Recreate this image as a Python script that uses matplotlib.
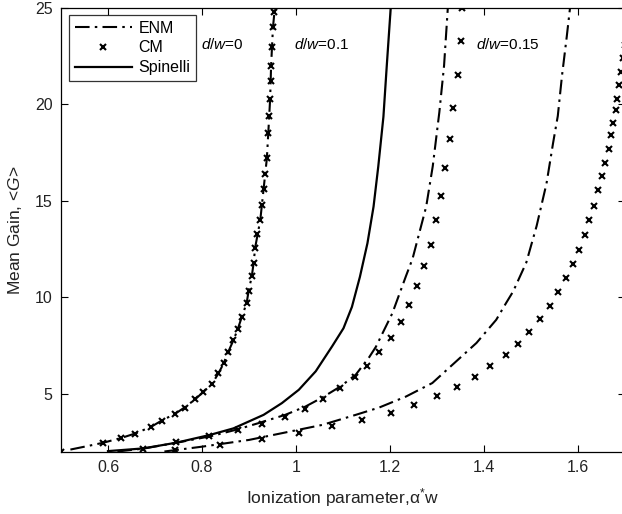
import matplotlib
matplotlib.use("Agg")
import matplotlib.pyplot as plt

plt.rcParams['font.family'] = ['Liberation Sans', 'DejaVu Sans']
plt.rcParams['mathtext.fontset'] = 'custom'
plt.rcParams['mathtext.rm'] = 'Liberation Sans'
plt.rcParams['mathtext.it'] = 'Liberation Sans:italic'

# d/w = 0 (ENM and CM coincide)
enm0_x = [0.52, 0.56, 0.589, 0.628, 0.66, 0.693, 0.714, 0.743, 0.764, 0.785, 0.803, 0.821,
          0.835, 0.846, 0.856, 0.867, 0.876, 0.885, 0.895, 0.899, 0.906, 0.910, 0.913,
          0.924, 0.931, 0.938, 0.941, 0.945, 0.947, 0.951, 0.955]
enm0_g = [2.1, 2.3, 2.45, 2.7, 2.95, 3.3, 3.6, 3.96, 4.3, 4.7, 5.09, 5.5,
          6.05, 6.57, 7.17, 7.78, 8.34, 9.0, 9.7, 10.3, 11.1, 11.8, 12.56,
          14.0, 15.6, 17.2, 18.5, 20.3, 22.0, 24.0, 25.0]
cm0_x = [0.5, 0.589, 0.628, 0.658, 0.692, 0.714, 0.742, 0.764, 0.785, 0.803, 0.821, 0.835,
         0.846, 0.856, 0.867, 0.876, 0.885, 0.895, 0.899, 0.906, 0.910, 0.913, 0.918,
         0.924, 0.928, 0.931, 0.935, 0.938, 0.941, 0.943, 0.945, 0.946, 0.947, 0.949,
         0.951, 0.953]
cm0_g = [2.0, 2.42, 2.72, 2.93, 3.28, 3.6, 3.95, 4.25, 4.72, 5.09, 5.5, 6.05,
         6.57, 7.17, 7.78, 8.34, 9.0, 9.7, 10.3, 11.1, 11.8, 12.56, 13.3,
         14.0, 14.8, 15.6, 16.4, 17.2, 18.5, 19.4, 20.3, 21.2, 22.0, 23.0,
         24.0, 24.8]

# d/w = 0.1
sp1_x = [0.60, 0.675, 0.746, 0.817, 0.867, 0.931, 0.970, 1.006, 1.042, 1.077, 1.101,
         1.119, 1.136, 1.152, 1.165, 1.175, 1.186, 1.193, 1.2015]
sp1_g = [2.02, 2.16, 2.46, 2.86, 3.2, 3.9, 4.51, 5.2, 6.16, 7.46, 8.39,
         9.5, 11.06, 12.8, 14.7, 16.77, 19.36, 21.96, 25.0]
enm1_x = [0.62, 0.675, 0.745, 0.82, 0.876, 0.92, 0.977, 1.02, 1.056, 1.095, 1.127,
          1.156, 1.17, 1.205, 1.234, 1.248, 1.277, 1.291, 1.305, 1.315, 1.323]
enm1_g = [2.0, 2.15, 2.45, 2.8, 3.15, 3.47, 3.9, 4.33, 4.8, 5.38, 5.98,
          6.9, 7.43, 9.17, 11.1, 12.0, 14.7, 16.8, 19.6, 22.0, 25.0]
cm1_x = [0.675, 0.745, 0.814, 0.876, 0.928, 0.977, 1.02, 1.057, 1.094, 1.126, 1.152,
         1.177, 1.203, 1.223, 1.241, 1.257, 1.273, 1.287, 1.298, 1.309, 1.317, 1.328,
         1.335, 1.344, 1.351, 1.354]
cm1_g = [2.15, 2.5, 2.78, 3.1, 3.45, 3.81, 4.22, 4.7, 5.27, 5.84, 6.43,
         7.14, 7.89, 8.7, 9.58, 10.6, 11.6, 12.7, 14.0, 15.25, 16.7, 18.2,
         19.8, 21.5, 23.3, 25.0]

# d/w = 0.15
enm2_x = [0.72, 0.80, 0.90, 0.97, 1.056, 1.127, 1.177, 1.234, 1.29, 1.337, 1.384,
          1.426, 1.447, 1.462, 1.49, 1.512, 1.533, 1.547, 1.557, 1.566, 1.576, 1.583]
enm2_g = [2.0, 2.25, 2.6, 2.95, 3.38, 3.9, 4.28, 4.85, 5.55, 6.59, 7.63,
          8.83, 9.7, 10.3, 11.8, 13.7, 15.9, 18.0, 19.4, 21.5, 23.5, 25.0]
cm2_x = [0.742, 0.839, 0.928, 1.006, 1.077, 1.141, 1.202, 1.252, 1.30, 1.342, 1.38,
         1.413, 1.446, 1.472, 1.496, 1.52, 1.54, 1.558, 1.574, 1.59, 1.603, 1.615,
         1.624, 1.634, 1.643, 1.652, 1.658, 1.665, 1.671, 1.675, 1.68, 1.684, 1.688,
         1.692, 1.696, 1.699]
cm2_g = [2.08, 2.34, 2.63, 2.95, 3.33, 3.64, 4.0, 4.4, 4.87, 5.35, 5.87,
         6.43, 7.0, 7.6, 8.21, 8.86, 9.57, 10.25, 10.98, 11.74, 12.47, 13.25,
         14.0, 14.75, 15.55, 16.28, 16.98, 17.7, 18.4, 19.06, 19.7, 20.3, 21.0,
         21.7, 22.4, 23.1]

xticks = [0.6, 0.8, 1.0, 1.2, 1.4, 1.6]
xticklabels = ['0.6', '0.8', '1', '1.2', '1.4', '1.6']
yticks = [5, 10, 15, 20, 25]
annot_labels = ['$\\mathit{d/w}$=0', '$\\mathit{d/w}$=0.1', '$\\mathit{d/w}$=0.15']
annot_x = [0.797, 0.995, 1.383]
annot_y = [23.1, 23.1, 23.1]

fig = plt.figure(figsize=(6.22, 5.14), dpi=100)
W, H = 622, 514
ax = fig.add_axes([61 / W, (H - 451.5) / H, (625 - 61) / W, (451.5 - 8) / H])

dd = (0, (7, 2.5, 1.2, 2.5))
lw = 1.5
ax.plot(enm0_x, enm0_g, color='k', lw=lw, linestyle=dd, label='ENM')
ax.plot(cm0_x, cm0_g, linestyle='none', marker='x', color='k', ms=5, mew=1.5, label='CM')
ax.plot(sp1_x, sp1_g, color='k', lw=1.6, linestyle='-', label='Spinelli')
ax.plot(enm1_x, enm1_g, color='k', lw=lw, linestyle=dd)
ax.plot(cm1_x, cm1_g, linestyle='none', marker='x', color='k', ms=5, mew=1.5)
ax.plot(enm2_x, enm2_g, color='k', lw=lw, linestyle=dd)
ax.plot(cm2_x, cm2_g, linestyle='none', marker='x', color='k', ms=5, mew=1.5)

for t, x, y in zip(annot_labels, annot_x, annot_y):
    ax.text(x, y, t, fontsize=11, va='center', ha='left')

ax.set_xlim(0.5, 1.7)
ax.set_ylim(2, 25)
ax.set_xticks(xticks)
ax.set_xticklabels(xticklabels)
ax.set_yticks(yticks)
ax.tick_params(direction='in', top=True, right=True, length=5, width=0.8,
               labelsize=11.5, labelcolor='#222222', pad=6)
for s in ax.spines.values():
    s.set_linewidth(0.9)

ax.set_xlabel('Ionization parameter,α$^{*}$w', fontsize=12.5, color='#222222', labelpad=8)
ax.set_ylabel('Mean Gain, <$\\mathit{G}$>', fontsize=12.5, color='#222222', labelpad=8)

leg = ax.legend(loc='upper left', bbox_to_anchor=(69 / W, 1 - 15 / H), bbox_transform=fig.transFigure,
                fontsize=11.5, frameon=True, fancybox=False, edgecolor='k',
                handlelength=3.6, handletextpad=0.4, borderpad=0.35, labelspacing=0.3,
                borderaxespad=0)
leg.get_frame().set_linewidth(0.9)

fig.savefig('out.png', dpi=100)
